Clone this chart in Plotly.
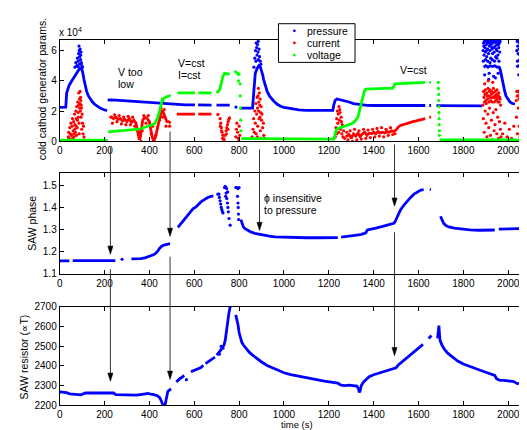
import plotly.graph_objects as go

# ---------------- data ----------------
# top panel, values in units of 1e4
pressure_segments = [
    [(0, 2.24), (10, 2.25), (20, 2.23), (27, 2.26), (31, 3.2), (36, 3.5), (42, 3.7), (50, 3.9), (58, 4.1),
     (66, 4.3), (74, 4.5), (82, 4.7), (90, 4.85), (97, 4.8), (102, 4.6), (108, 4.1), (114, 3.6), (120, 3.3),
     (128, 3.0), (136, 2.8), (146, 2.6), (156, 2.45), (168, 2.3), (180, 2.2), (192, 2.12), (204, 2.06), (211, 2.02)],
    [(214, 2.72), (225, 2.74), (250, 2.72), (280, 2.69), (310, 2.66), (340, 2.63), (370, 2.6), (400, 2.56),
     (430, 2.51), (460, 2.47), (490, 2.44), (520, 2.42), (560, 2.41), (603, 2.41)],
    [(617, 2.41), (677, 2.40)],
    [(699, 2.40), (758, 2.39)],
    [(780, 2.28), (792, 2.25)],
    [(803, 2.2), (830, 2.18), (860, 2.2), (864, 3.0), (868, 4.0), (872, 4.5), (880, 4.8), (888, 5.0), (895, 4.9),
     (900, 4.7), (905, 4.4), (910, 4.05), (918, 3.6), (925, 3.3), (935, 3.0), (945, 2.8), (955, 2.65), (970, 2.45),
     (985, 2.32), (1000, 2.25), (1030, 2.15), (1066, 2.08), (1100, 2.05), (1150, 2.04), (1200, 2.04), (1218, 2.05),
     (1222, 2.4), (1228, 2.7), (1236, 2.8), (1250, 2.76), (1270, 2.7), (1290, 2.6), (1310, 2.5), (1330, 2.45),
     (1350, 2.41), (1370, 2.38), (1400, 2.37), (1450, 2.37), (1500, 2.37), (1550, 2.37), (1600, 2.37), (1630, 2.37)],
    [(1648, 2.37), (1656, 2.37)],
    [(1680, 2.36), (1700, 2.36), (1750, 2.35), (1800, 2.35), (1850, 2.35), (1884, 2.35)],
    [(1890, 4.9), (1900, 5.0), (1910, 4.9), (1920, 5.0), (1930, 4.95), (1940, 5.0), (1950, 4.9), (1960, 4.9),
     (1965, 4.7), (1970, 4.3), (1976, 3.8), (1983, 3.4), (1990, 3.0), (1998, 2.8), (2008, 2.6), (2018, 2.5), (2030, 2.48)],
    [(2036, 4.9), (2045, 5.0), (2055, 4.95), (2065, 5.0), (2075, 4.9), (2085, 5.0), (2095, 4.95), (2105, 4.9), (2115, 4.95)],
]
pressure_points = [
    (68, 4.9), (72, 5.2), (76, 5.0), (79, 5.5), (82, 5.3), (84, 5.8), (86, 6.3), (87, 6.0), (89, 5.6), (91, 6.1),
    (93, 5.4), (95, 5.9), (97, 5.2), (99, 5.0), (101, 4.9), (88, 5.1), (80, 4.95), (94, 5.7),
    (866, 4.9), (870, 5.5), (873, 6.0), (876, 6.5), (878, 6.2), (880, 5.7), (882, 6.4), (884, 5.9), (886, 5.4),
    (889, 6.1), (891, 5.6), (894, 5.3), (897, 5.1), (875, 5.3), (885, 6.6),
    (1888, 6.0), (1890, 6.5), (1892, 5.7), (1894, 6.6), (1896, 6.2), (1898, 5.9), (1900, 6.6), (1902, 6.4),
    (1904, 5.6), (1906, 6.6), (1908, 6.1), (1910, 6.5), (1912, 5.8), (1914, 6.6), (1916, 6.3), (1918, 6.0),
    (1920, 6.6), (1922, 5.5), (1924, 6.4), (1926, 6.6), (1928, 6.1), (1930, 5.8), (1932, 6.5), (1934, 6.6),
    (1936, 6.2), (1938, 5.9), (1940, 6.6), (1942, 6.3), (1944, 5.6), (1946, 6.5), (1948, 6.6), (1950, 6.0),
    (1952, 6.4), (1954, 5.7), (1956, 6.6), (1958, 6.2), (1960, 6.5), (1962, 5.9), (1964, 6.6), (1889, 5.3),
    (1899, 5.4), (1909, 5.3), (1919, 5.2), (1929, 5.4), (1939, 5.3), (1949, 5.5), (1959, 5.3), (1895, 4.4),
    (1915, 4.5), (1935, 4.3), (1955, 4.5), (1913, 4.1), (1943, 4.2), (1891, 6.3), (1903, 6.0), (1917, 6.5),
    (1927, 6.2), (1937, 6.6), (1947, 6.1), (1957, 6.4),
    (2038, 6.0), (2040, 6.6), (2042, 6.3), (2044, 5.8), (2046, 6.6), (2048, 6.1), (2050, 6.5), (2052, 5.7),
    (2054, 6.6), (2056, 6.2), (2058, 6.4), (2060, 5.9), (2062, 6.6), (2064, 6.3), (2066, 5.6), (2068, 6.6),
    (2070, 6.1), (2072, 6.5), (2074, 5.8), (2076, 6.6), (2078, 6.2), (2080, 6.0), (2082, 6.6), (2084, 6.4),
    (2086, 5.7), (2088, 6.6), (2090, 6.3), (2092, 5.9), (2094, 6.5), (2096, 6.6), (2098, 6.1), (2100, 5.8),
    (2102, 6.6), (2104, 6.3), (2106, 6.0), (2108, 6.6), (2110, 6.4), (2112, 5.9), (2114, 6.5), (2041, 5.3),
    (2051, 5.4), (2061, 5.3), (2071, 5.4), (2081, 5.2), (2091, 5.4), (2101, 5.3), (2111, 5.4), (2047, 4.4),
    (2067, 4.3), (2087, 4.5), (2107, 4.2), (2057, 4.1),
]

current_segments = [
    [(222, 1.55), (230, 1.62), (240, 1.5), (250, 1.6), (260, 1.45), (270, 1.5), (280, 1.35), (290, 1.45),
     (300, 1.3), (310, 1.5), (320, 1.25), (330, 1.4), (340, 1.2), (345, 0.9), (350, 0.4), (355, 0.1), (360, 0.3),
     (365, 1.0), (370, 1.4), (380, 1.6), (390, 1.5), (400, 1.3), (405, 0.8), (412, 0.3), (418, 0.05), (425, 0.2),
     (432, 0.6), (440, 1.2), (448, 1.7), (455, 2.0), (462, 1.9), (470, 1.6), (478, 1.3), (485, 1.3), (495, 1.2)],
    [(522, 1.80), (560, 1.78), (603, 1.80)],
    [(618, 1.80), (677, 1.80)],
    [(699, 1.80), (712, 1.75)],
    [(1275, 0.3), (1290, 0.45), (1300, 0.2), (1310, 0.5), (1320, 0.35), (1330, 0.55), (1340, 0.3), (1350, 0.5),
     (1360, 0.6), (1370, 0.4), (1380, 0.55), (1390, 0.5), (1400, 0.6), (1410, 0.5), (1420, 0.65), (1430, 0.55),
     (1440, 0.6), (1450, 0.55), (1460, 0.65), (1470, 0.6), (1480, 0.7), (1490, 0.65), (1500, 0.75), (1510, 0.95),
     (1520, 1.05), (1530, 1.1), (1545, 1.2), (1560, 1.25), (1575, 1.3), (1590, 1.35), (1605, 1.4), (1620, 1.45),
     (1630, 1.5)],
    [(1648, 1.58), (1656, 1.6)],
]
current_points = [
    (38, 0.3), (40, 0.6), (42, 0.2), (45, 0.9), (47, 0.5), (50, 1.2), (52, 0.4), (55, 1.0), (57, 1.5), (60, 0.7),
    (62, 1.3), (64, 0.3), (66, 1.8), (68, 1.1), (70, 0.6), (72, 2.0), (74, 1.5), (76, 2.3), (78, 0.9), (80, 2.6),
    (82, 1.9), (84, 2.4), (85, 3.2), (86, 1.2), (88, 2.8), (90, 2.5), (91, 3.3), (92, 2.0), (94, 2.7), (95, 1.6),
    (97, 2.2), (98, 0.8), (100, 1.8), (102, 1.2), (104, 0.5), (106, 1.0), (108, 0.3), (110, 0.1), (44, 0.1),
    (58, 0.2), (75, 0.4), (87, 0.5), (93, 2.9), (96, 2.4), (89, 2.2), (83, 1.6), (79, 1.4), (73, 1.0), (67, 0.8),
    (63, 0.5),
    (235, 1.2), (245, 1.75), (255, 1.3), (265, 1.7), (275, 1.15), (285, 1.6), (295, 1.1), (305, 1.65), (315, 1.1),
    (325, 1.6), (335, 1.0), (352, 0.8), (358, 0.6), (362, 0.0), (368, 0.7), (375, 1.7), (385, 1.2), (395, 1.7),
    (408, 0.5), (415, 1.0), (422, 0.0), (428, 0.4), (436, 0.9), (445, 1.4), (452, 2.2), (458, 1.6), (466, 2.1),
    (474, 1.0), (490, 1.0),
    (715, 1.5), (718, 1.2), (721, 0.9), (724, 0.6), (727, 0.4), (730, 0.2), (733, 0.1), (716, 1.0), (722, 0.7),
    (726, 0.2), (732, 0.0), (738, 0.4), (742, 0.7), (745, 0.9), (748, 1.1), (751, 1.3), (754, 1.45), (757, 1.55),
    (744, 0.5), (750, 0.8),
    (785, 0.3), (788, 0.8), (790, 1.2), (793, 0.6), (796, 0.2), (800, 1.0), (803, 0.4), (798, 0.0),
    (858, 0.3), (862, 0.8), (865, 1.5), (868, 0.6), (870, 2.0), (872, 1.2), (875, 2.5), (878, 1.8), (880, 2.9),
    (882, 2.2), (884, 3.0), (886, 3.5), (888, 2.6), (890, 3.2), (892, 2.4), (894, 2.8), (896, 1.9), (898, 2.3),
    (900, 1.4), (902, 1.8), (905, 0.9), (908, 1.2), (910, 0.4), (914, 0.2), (876, 0.5), (883, 1.0), (889, 1.5),
    (895, 0.7), (899, 0.2), (887, 2.0), (893, 1.6), (881, 0.3),
    (1229, 0.3), (1232, 0.9), (1235, 1.5), (1238, 2.0), (1240, 1.2), (1242, 1.8), (1245, 2.3), (1247, 1.4),
    (1250, 1.9), (1252, 0.8), (1255, 1.6), (1258, 0.5), (1260, 1.1), (1263, 0.3), (1266, 0.7), (1270, 0.2),
    (1236, 0.5), (1244, 0.6), (1249, 2.1), (1256, 1.3),
    (1280, 0.6), (1285, 0.1), (1295, 0.7), (1305, 0.0), (1315, 0.8), (1325, 0.1), (1335, 0.7), (1345, 0.15),
    (1355, 0.8), (1365, 0.2), (1375, 0.75), (1385, 0.25), (1395, 0.8), (1405, 0.3), (1415, 0.85), (1425, 0.35),
    (1435, 0.9), (1445, 0.3), (1455, 0.8), (1465, 0.4), (1475, 0.9), (1485, 0.45), (1495, 0.5),
    (1888, 2.4), (1892, 2.9), (1896, 3.1), (1900, 2.7), (1904, 3.2), (1908, 2.8), (1912, 3.0), (1916, 3.3),
    (1920, 2.9), (1924, 3.1), (1928, 2.6), (1932, 3.2), (1936, 2.9), (1940, 3.0), (1944, 2.7), (1948, 3.1),
    (1952, 2.8), (1956, 3.0), (1960, 2.6), (1964, 2.8), (1966, 2.4), (1890, 3.3), (1894, 2.6), (1898, 3.4),
    (1902, 2.5), (1906, 3.0), (1910, 3.5), (1914, 2.6), (1918, 3.4), (1922, 2.7), (1926, 3.3), (1930, 2.9),
    (1934, 3.5), (1938, 2.6), (1942, 3.3), (1946, 2.9), (1950, 3.4), (1954, 2.6), (1958, 3.2), (1962, 2.9),
    (1889, 1.5), (1893, 0.6), (1897, 2.0), (1901, 1.2), (1905, 0.3), (1909, 1.8), (1913, 0.9), (1917, 2.2),
    (1921, 0.4), (1925, 1.4), (1929, 0.1), (1933, 1.9), (1937, 0.7), (1941, 1.1), (1945, 2.1), (1949, 0.5),
    (1953, 1.6), (1957, 0.2), (1961, 1.3), (1965, 0.8), (1968, 0.3), (1911, 4.0), (1931, 3.9), (1895, 3.8),
    (1975, 0.5), (1985, 1.2), (1995, 0.3), (2005, 0.8), (2015, 0.2), (2025, 1.0),
    (2036, 2.7), (2040, 3.0), (2044, 3.3), (2048, 2.8), (2052, 3.1), (2056, 2.9), (2060, 3.4), (2064, 2.8),
    (2068, 3.2), (2072, 2.9), (2076, 3.3), (2080, 3.0), (2084, 2.8), (2088, 3.2), (2092, 3.0), (2096, 3.4),
    (2100, 2.9), (2104, 3.1), (2108, 3.3), (2112, 2.9), (2115, 3.1), (2038, 3.3), (2046, 3.0), (2054, 3.4),
    (2062, 3.1), (2070, 2.7), (2078, 3.1), (2086, 3.4), (2094, 2.8), (2102, 3.2), (2110, 3.0),
    (2037, 1.6), (2041, 0.5), (2045, 2.2), (2049, 1.0), (2053, 0.3), (2057, 1.8), (2061, 0.7), (2065, 2.0),
    (2069, 1.3), (2073, 0.2), (2077, 1.5), (2081, 2.3), (2085, 0.6), (2089, 1.1), (2093, 1.9), (2097, 0.4),
    (2101, 1.4), (2105, 2.1), (2109, 0.8), (2113, 1.7), (2074, 4.2), (2098, 3.9),
]

voltage_segments = [
    [(0, 0.08), (100, 0.08), (214, 0.08)],
    [(216, 0.63), (230, 0.66), (260, 0.69), (290, 0.72), (320, 0.75), (350, 0.8), (370, 0.88), (390, 0.97),
     (410, 1.08), (425, 1.2), (435, 1.5), (445, 2.0), (452, 2.5), (458, 2.8), (470, 2.9), (485, 3.0), (495, 3.05)],
    [(525, 3.2), (560, 3.22), (603, 3.2)],
    [(618, 3.2), (677, 3.2)],
    [(699, 3.2), (708, 3.3), (715, 3.5), (722, 3.9), (728, 4.3), (735, 4.5), (745, 4.5), (758, 4.45)],
    [(788, 4.4), (796, 4.5), (803, 4.35)],
    [(810, 0.18), (900, 0.17), (1000, 0.16), (1100, 0.15), (1222, 0.14), (1226, 0.35), (1232, 0.7), (1240, 0.85),
     (1260, 0.95), (1280, 1.05), (1300, 1.15), (1315, 1.3), (1330, 1.6), (1340, 2.2), (1350, 2.8), (1358, 3.3),
     (1365, 3.45), (1400, 3.47), (1450, 3.5), (1485, 3.52), (1495, 3.8), (1550, 3.85), (1600, 3.88), (1630, 3.9)],
    [(1648, 3.9), (1656, 3.9)],
    [(1695, 0.1), (1800, 0.1), (1900, 0.1), (2000, 0.1), (2115, 0.1)],
]
voltage_points = [
    (804, 3.8), (805, 3.0), (806, 2.2), (807, 1.4), (808, 0.7), (797, 4.0), (784, 4.6), (460, 2.7),
    (1688, 3.9), (1689, 3.5), (1690, 3.1), (1690, 2.7), (1691, 2.3), (1691, 1.9), (1692, 1.5), (1692, 1.1),
    (1693, 0.7), (1693, 0.4),
]

phase_segments = [
    [(0, 1.159), (43, 1.159)],
    [(58, 1.16), (100, 1.16), (150, 1.159), (200, 1.159), (248, 1.16)],
    [(320, 1.168), (340, 1.168), (360, 1.169), (380, 1.172), (400, 1.178), (415, 1.185), (425, 1.19), (435, 1.2),
     (445, 1.215), (455, 1.225), (465, 1.23), (475, 1.232), (485, 1.235), (492, 1.236)],
    [(527, 1.31), (535, 1.32), (545, 1.335), (555, 1.35), (565, 1.36), (575, 1.375), (585, 1.385), (595, 1.395),
     (605, 1.40), (615, 1.41), (630, 1.425), (645, 1.435), (660, 1.445), (675, 1.45), (685, 1.452)],
    [(808, 1.345), (812, 1.33), (818, 1.315), (825, 1.305), (835, 1.298), (850, 1.29), (870, 1.283), (890, 1.278),
     (910, 1.274), (935, 1.27), (960, 1.267), (1000, 1.265), (1050, 1.264), (1100, 1.263), (1150, 1.263),
     (1200, 1.263), (1240, 1.264)],
    [(1255, 1.266), (1280, 1.268), (1300, 1.27), (1325, 1.275), (1345, 1.278), (1365, 1.285), (1372, 1.298),
     (1385, 1.302), (1410, 1.307), (1440, 1.314), (1470, 1.322), (1490, 1.328), (1495, 1.335), (1502, 1.35),
     (1510, 1.37), (1520, 1.39), (1535, 1.41), (1550, 1.43), (1565, 1.445), (1580, 1.46), (1595, 1.47),
     (1610, 1.478), (1623, 1.48)],
    [(1650, 1.481), (1655, 1.48)],
    [(1698, 1.36), (1705, 1.34), (1712, 1.328), (1722, 1.318), (1735, 1.312), (1760, 1.306), (1790, 1.302),
     (1830, 1.299), (1870, 1.297), (1910, 1.297), (1940, 1.298)],
    [(1958, 1.302), (1990, 1.302), (2030, 1.303), (2060, 1.305), (2085, 1.31), (2100, 1.312), (2115, 1.313)],
]
phase_points = [
    (278, 1.166),
    (705, 1.46), (710, 1.46), (712, 1.445), (715, 1.43), (718, 1.415), (720, 1.40), (723, 1.39), (726, 1.38),
    (728, 1.375), (735, 1.49), (738, 1.495), (741, 1.49), (744, 1.485), (740, 1.45), (745, 1.44), (748, 1.42),
    (750, 1.40), (752, 1.38), (755, 1.35), (760, 1.32), (742, 1.465), (749, 1.47), (785, 1.49), (790, 1.49),
    (795, 1.485), (800, 1.49), (793, 1.45), (795, 1.42), (796, 1.40), (797, 1.37), (798, 1.345),
]

resistor_segments = [
    [(0, 2268), (15, 2267), (30, 2264), (45, 2258), (70, 2256), (95, 2253), (105, 2258), (115, 2262), (150, 2262),
     (200, 2262), (240, 2262), (250, 2254), (270, 2253), (300, 2252), (320, 2250), (340, 2251), (360, 2254),
     (380, 2256), (395, 2260), (405, 2256), (420, 2254), (435, 2248), (445, 2240), (452, 2225), (458, 2205),
     (463, 2192), (468, 2192), (472, 2215), (476, 2245), (482, 2270), (490, 2278), (497, 2282)],
    [(520, 2318), (528, 2328), (535, 2335), (545, 2342), (555, 2352)],
    [(585, 2370), (600, 2378), (615, 2385), (630, 2392), (640, 2403)],
    [(650, 2412), (665, 2425), (680, 2435), (692, 2445)],
    [(700, 2455), (710, 2468), (718, 2480), (725, 2495), (732, 2505), (738, 2530), (742, 2570), (746, 2610),
     (750, 2640), (754, 2665), (758, 2690), (762, 2710)],
    [(785, 2660), (790, 2640), (795, 2610), (800, 2570), (805, 2545), (812, 2520), (820, 2505), (830, 2490),
     (845, 2470), (860, 2455), (880, 2437), (900, 2420), (925, 2402), (950, 2390), (975, 2378), (1000, 2365),
     (1030, 2356), (1060, 2349), (1090, 2342), (1120, 2336), (1150, 2329), (1180, 2323), (1210, 2318),
     (1240, 2312), (1255, 2302), (1270, 2300), (1290, 2302), (1310, 2300), (1325, 2297), (1332, 2285),
     (1336, 2265), (1340, 2275), (1345, 2300), (1355, 2318), (1365, 2330), (1380, 2345), (1400, 2355),
     (1430, 2365), (1460, 2375), (1490, 2385), (1500, 2390), (1510, 2405), (1530, 2425), (1550, 2442),
     (1570, 2460), (1590, 2480), (1610, 2500), (1620, 2510)],
    [(1645, 2540), (1652, 2548), (1658, 2555)],
    [(1685, 2540), (1688, 2580), (1691, 2605), (1693, 2570), (1696, 2530), (1705, 2505), (1715, 2485),
     (1730, 2465), (1750, 2445), (1775, 2425), (1800, 2410), (1825, 2398), (1850, 2388), (1875, 2378),
     (1900, 2368), (1925, 2360), (1940, 2352), (1948, 2335), (1960, 2328), (1980, 2326), (2000, 2325),
     (2025, 2320), (2040, 2310), (2060, 2312), (2080, 2310), (2100, 2305), (2115, 2302)],
]
resistor_points = [(565, 2330), (712, 2460), (720, 2500), (728, 2490)]

x_ticks = [0, 200, 400, 600, 800, 1000, 1200, 1400, 1600, 1800, 2000]
top_ticks = [0, 2, 4, 6]
phase_ticks = [1.1, 1.2, 1.3, 1.4, 1.5]
resistor_ticks = [2200, 2300, 2400, 2500, 2600, 2700]
legend_labels = ["pressure", "current", "voltage"]

# arrows: (time, tail y px, tip y px)
arrows = [(226, 138, 247.7), (226, 263, 378), (492, 121.7, 229.3), (492, 250, 376),
          (891, 140, 223.3), (1493, 135, 198.3), (1493, 225, 351.7)]

# ---------------- figure ----------------
W, H = 527, 430
BLUE, RED, GREEN = "#0000ff", "#ff0000", "#00ff00"
FONT = "Liberation Sans, Arial, Helvetica, sans-serif"


def fx(px):
    return px / W


def fy(py):
    return 1 - py / H


def seg_xy(segments, scale=1.0):
    xs, ys = [], []
    for s in segments:
        for t, v in s:
            xs.append(t)
            ys.append(v * scale)
        xs.append(None)
        ys.append(None)
    return xs, ys


def pts_xy(points, scale=1.0):
    return [p[0] for p in points], [p[1] * scale for p in points]


fig = go.Figure()


def add_series(segments, points, color, xa, ya, scale=1.0, lw=2.8, ms=3.2):
    x, y = seg_xy(segments, scale)
    fig.add_trace(go.Scatter(x=x, y=y, mode="lines", line=dict(color=color, width=lw),
                             xaxis=xa, yaxis=ya, showlegend=False, hoverinfo="skip"))
    x, y = pts_xy(points, scale)
    fig.add_trace(go.Scatter(x=x, y=y, mode="markers", marker=dict(color=color, size=ms, line=dict(width=0)),
                             xaxis=xa, yaxis=ya, showlegend=False, hoverinfo="skip"))


add_series(pressure_segments, pressure_points, BLUE, "x", "y", scale=1e4)
add_series(current_segments, current_points, RED, "x", "y", scale=1e4)
add_series(voltage_segments, voltage_points, GREEN, "x", "y", scale=1e4)
add_series(phase_segments, phase_points, BLUE, "x2", "y2")
add_series(resistor_segments, resistor_points, BLUE, "x3", "y3")

xdom = [fx(49), fx(526)]
common_axis = dict(showline=True, linecolor="black", linewidth=1, mirror="ticks", ticks="inside",
                   ticklen=4, tickcolor="black", showgrid=False, zeroline=False,
                   tickfont=dict(family=FONT, size=10, color="black"))
xcommon = dict(common_axis, range=[0, 2115], tickvals=x_ticks, domain=xdom)

fig.update_layout(
    width=W, height=H, margin=dict(l=0, r=0, t=0, b=0),
    paper_bgcolor="white", plot_bgcolor="white", showlegend=False,
    font=dict(family=FONT, size=10, color="black"),
    xaxis=dict(xcommon, anchor="y"),
    xaxis2=dict(xcommon, anchor="y2"),
    xaxis3=dict(xcommon, anchor="y3"),
    yaxis=dict(common_axis, anchor="x", domain=[fy(131.7), fy(27.7)], range=[0, 6.7e4],
               tickvals=[v * 1e4 for v in top_ticks], ticktext=[str(v) for v in top_ticks]),
    yaxis2=dict(common_axis, anchor="x2", domain=[fy(267.7), fy(164.3)], range=[1.1, 1.555],
                tickvals=phase_ticks, ticktext=[f"{v:.1f}" for v in phase_ticks]),
    yaxis3=dict(common_axis, anchor="x3", domain=[fy(402.5), fy(301.7)], range=[2200, 2700],
                tickvals=resistor_ticks),
)

shapes = []
ux = 477 / 2115.0  # px per second
for t, tail, tip in arrows:
    shapes.append(dict(type="line", xref="x", yref="paper", x0=t, x1=t, y0=fy(tail), y1=fy(tip - 6),
                       line=dict(color="#333333", width=1)))
    dx = 2.6 / ux
    shapes.append(dict(type="path", xref="x", yref="paper",
                       path=f"M {t - dx},{fy(tip - 8.5)} L {t + dx},{fy(tip - 8.5)} L {t},{fy(tip)} Z",
                       fillcolor="black", line=dict(color="black", width=0.5)))

# custom legend box
shapes.append(dict(type="rect", xref="paper", yref="paper", x0=fx(269), x1=fx(346), y0=fy(50.7), y1=fy(11),
                   fillcolor="white", line=dict(color="black", width=1)))
leg_rows = [18.3, 30.7, 43.3]
for py, col in zip(leg_rows, [BLUE, RED, GREEN]):
    r = 1.4
    shapes.append(dict(type="circle", xref="paper", yref="paper", x0=fx(285 - r), x1=fx(285 + r),
                       y0=fy(py + r), y1=fy(py - r), fillcolor=col, line=dict(width=0)))
fig.update_layout(shapes=shapes)

ann = []


def text(s, px, py, size=10.5, xanchor="left", angle=0, pad=1):
    ann.append(dict(text=s, x=fx(px), y=fy(py), xref="paper", yref="paper", showarrow=False,
                    xanchor=xanchor, yanchor="middle", textangle=angle, borderpad=pad,
                    font=dict(family=FONT, size=size, color="black")))


for lab, py in zip(legend_labels, leg_rows):
    text(lab, 296, py)
text("V too", 105.5, 60.5)
text("low", 105.5, 72.5)
text("V=cst", 165.5, 51.5)
text("I=cst", 165.5, 63.5)
text("V=cst", 389, 58.5)
text("ϕ insensitive", 252, 190)
text("to pressure", 252, 202.5)
text("x 10<sup>4</sup>", 46, 19, size=10)
text("time (s)", 288, 422.5, size=9.5, xanchor="center", pad=0)
text("cold cathod generator params.", 31.5, 78, xanchor="center", angle=-90)
text("SAW phase", 21.5, 216, xanchor="center", angle=-90)
text("SAW resistor (<span style=\"font-family:'DejaVu Sans'\">∝</span>T)", 13.5, 353,
     xanchor="center", angle=-90)
fig.update_layout(annotations=ann)

fig.write_html("out.html")
